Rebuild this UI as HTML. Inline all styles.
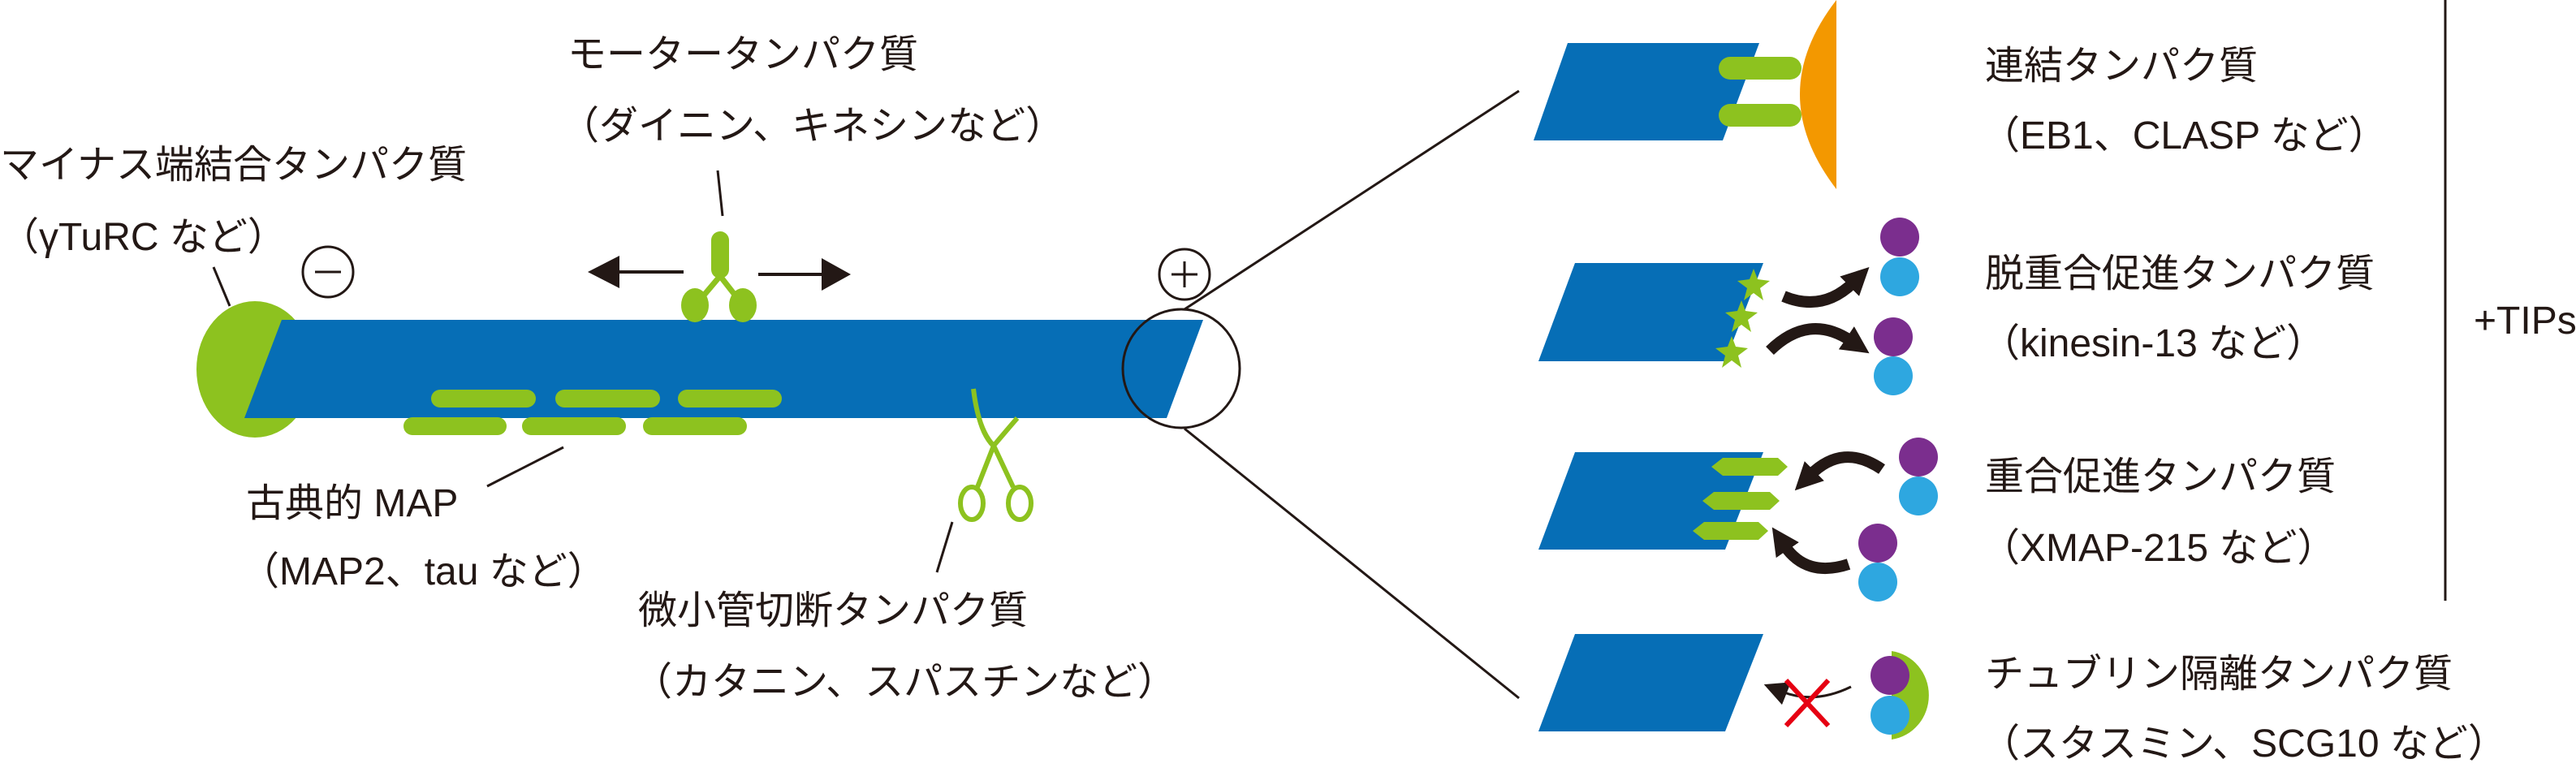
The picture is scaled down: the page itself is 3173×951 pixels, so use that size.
<!DOCTYPE html>
<html><head><meta charset="utf-8"><style>
html,body{margin:0;padding:0;background:#fff}
svg{display:block}
text{font-family:"Liberation Sans","Noto Sans CJK JP",sans-serif;font-size:48px;fill:#231815}
</style></head><body>
<svg width="3173" height="951" viewBox="0 0 3173 951" xmlns="http://www.w3.org/2000/svg">
<defs>
<marker id="ah" viewBox="0 0 10 10" refX="2" refY="5" markerWidth="34" markerHeight="34" markerUnits="userSpaceOnUse" orient="auto">
<path d="M0,0 L10,5 L0,10 Z" fill="#231815"/></marker>
<marker id="ah2" viewBox="0 0 10 10" refX="2" refY="5" markerWidth="30" markerHeight="30" markerUnits="userSpaceOnUse" orient="auto">
<path d="M0,0 L10,5 L0,10 Z" fill="#231815"/></marker>
</defs>
<g stroke="#231815" stroke-width="3" fill="none">
<line x1="263" y1="329" x2="283" y2="377"/>
<line x1="884" y1="210" x2="890" y2="266"/>
<line x1="694" y1="551" x2="600" y2="599"/>
<line x1="1173" y1="643" x2="1154" y2="705"/>
<line x1="1459" y1="381" x2="1871" y2="112"/>
<line x1="1459" y1="528" x2="1871" y2="860"/>
<line x1="3012" y1="0" x2="3012" y2="740"/>
</g>
<ellipse cx="314" cy="455" rx="72" ry="84" fill="#8DC21F"/>
<polygon points="347,394 1482,394 1437,515 301,515" fill="#066EB6"/>
<g fill="#8DC21F">
<rect x="531" y="480" width="129" height="22" rx="11"/><rect x="684" y="480" width="129" height="22" rx="11"/><rect x="835" y="480" width="128" height="22" rx="11"/>
<rect x="497" y="514" width="127" height="22" rx="11"/><rect x="643" y="514" width="128" height="22" rx="11"/><rect x="792" y="514" width="128" height="22" rx="11"/>
<rect x="876" y="285" width="22" height="58" rx="11"/>
<ellipse cx="856" cy="376" rx="17" ry="21"/><ellipse cx="915" cy="376" rx="17" ry="21"/>
</g>
<path d="M887,340 L860,372 M887,340 L912,372" stroke="#8DC21F" stroke-width="7" fill="none"/>
<path d="M1199,479 Q1205,530 1224,549 Q1240,530 1253,515 M1224,549 L1204,600 M1224,549 L1248,600" stroke="#8DC21F" stroke-width="6" fill="none"/>
<path d="M1199,479 Q1200,530 1222,552 L1214,540 Z" fill="#8DC21F"/>
<ellipse cx="1197" cy="620" rx="14" ry="20" stroke="#8DC21F" stroke-width="6" fill="none"/>
<ellipse cx="1256" cy="620" rx="14" ry="20" stroke="#8DC21F" stroke-width="6" fill="none"/>
<g stroke="#231815" stroke-width="4"><line x1="842" y1="335" x2="760" y2="335"/><line x1="934" y1="338" x2="1015" y2="338"/></g>
<polygon points="724,335 763,315 763,355" fill="#231815"/>
<polygon points="1048,338 1012,318 1012,358" fill="#231815"/>
<g stroke="#231815" stroke-width="3" fill="none">
<circle cx="404" cy="335" r="31"/><line x1="388" y1="335" x2="420" y2="335"/>
<circle cx="1459" cy="338" r="31"/><line x1="1443" y1="338" x2="1475" y2="338"/><line x1="1459" y1="322" x2="1459" y2="354"/>
<ellipse cx="1455" cy="454" rx="72" ry="73"/>
</g>
<text x="699" y="83">モータータンパク質</text>
<text x="690" y="171">（ダイニン、キネシンなど）</text>
<text x="0" y="219">マイナス端結合タンパク質</text>
<text x="0" y="308">（γTuRC など）</text>
<text x="303" y="636">古典的 MAP</text>
<text x="296" y="720">（MAP2、tau など）</text>
<text x="786" y="768">微小管切断タンパク質</text>
<text x="780" y="856">（カタニン、スパスチンなど）</text>
<polygon points="1931,53 2167,53 2122,173 1889,173" fill="#066EB6"/>
<rect x="2117" y="70" width="102" height="28" rx="14" fill="#8DC21F"/>
<rect x="2117" y="128" width="102" height="28" rx="14" fill="#8DC21F"/>
<path d="M2262,0 Q2172,116 2262,233 Z" fill="#F39800"/>
<text x="2445" y="97">連結タンパク質</text>
<text x="2440" y="183">（EB1、CLASP など）</text>
<polygon points="1940,324 2172,324 2125,445 1895,445" fill="#066EB6"/>
<g fill="#8DC21F">
<polygon points="2160,331 2165,344 2180,346 2168,355 2172,370 2160,361 2148,370 2152,355 2140,346 2155,344"/>
<polygon points="2145,370 2150,383 2165,385 2153,394 2157,409 2145,400 2133,409 2137,394 2125,385 2140,383"/>
<polygon points="2133,414 2138,427 2153,429 2141,438 2145,453 2133,444 2121,453 2125,438 2113,429 2128,427"/>
</g>
<g stroke="#231815" stroke-width="14" fill="none">
<path d="M2197,365 Q2245,385 2283,348" marker-end="url(#ah)"/>
<path d="M2180,432 Q2228,385 2280,420" marker-end="url(#ah)"/>
<path d="M2318,578 Q2270,545 2230,585" marker-end="url(#ah)"/>
<path d="M2277,695 Q2225,712 2198,672" marker-end="url(#ah)"/>
</g>
<path d="M2280,846 Q2235,868 2195,852" stroke="#231815" stroke-width="3" fill="none" marker-end="url(#ah2)"/>
<circle cx="2340" cy="292" r="24" fill="#7B2E8E"/><circle cx="2340" cy="341" r="24" fill="#2EA7E0"/>
<circle cx="2332" cy="415" r="24" fill="#7B2E8E"/><circle cx="2332" cy="463" r="24" fill="#2EA7E0"/>
<text x="2445" y="353">脱重合促進タンパク質</text>
<text x="2440" y="439">（kinesin-13 など）</text>
<polygon points="1940,557 2172,557 2125,677 1895,677" fill="#066EB6"/>
<g fill="#8DC21F">
<polygon points="2108,575 2122,564 2190,564 2202,575 2190,586 2122,586"/>
<polygon points="2097,617 2111,606 2180,606 2192,617 2180,628 2111,628"/>
<polygon points="2085,654 2099,643 2166,643 2178,654 2166,665 2099,665"/>
</g>
<circle cx="2363" cy="563" r="24" fill="#7B2E8E"/><circle cx="2363" cy="611" r="24" fill="#2EA7E0"/>
<circle cx="2313" cy="669" r="24" fill="#7B2E8E"/><circle cx="2313" cy="717" r="24" fill="#2EA7E0"/>
<text x="2445" y="603">重合促進タンパク質</text>
<text x="2440" y="691">（XMAP-215 など）</text>
<polygon points="1940,781 2172,781 2125,901 1895,901" fill="#066EB6"/>
<path d="M2330,802 A53,55 0 0 1 2330,911 Z" fill="#8DC21F"/>
<circle cx="2328" cy="832" r="24" fill="#7B2E8E"/><circle cx="2328" cy="881" r="24" fill="#2EA7E0"/>
<g stroke="#E60012" stroke-width="6"><line x1="2200" y1="838" x2="2252" y2="894"/><line x1="2252" y1="838" x2="2200" y2="894"/></g>
<text x="2445" y="846">チュブリン隔離タンパク質</text>
<text x="2440" y="932">（スタスミン、SCG10 など）</text>
<text x="3047" y="411">+TIPs</text>
</svg>
</body></html>
